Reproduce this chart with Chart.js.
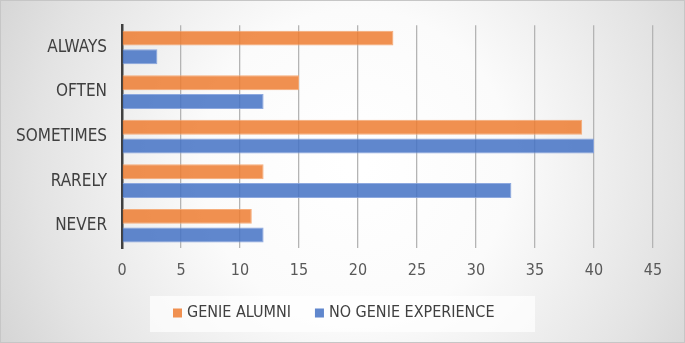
<!DOCTYPE html>
<html lang="en">
<head>
    <meta charset="UTF-8">
    <title>Genie survey</title>
    <script src="https://cdn.jsdelivr.net/npm/chart.js"></script>
    <style>
        html, body { margin: 0; padding: 0; background: #fff; }
        canvas { display: block; }
    </style>
</head>
<body>
    <canvas id="chart" width="685" height="343"></canvas>
    <script>
        const categories = ['ALWAYS', 'OFTEN', 'SOMETIMES', 'RARELY', 'NEVER'];
        const genieAlumni = [23, 15, 39, 12, 11];
        const noGenie = [3, 12, 40, 33, 12];
        const xTicks = [0, 5, 10, 15, 20, 25, 30, 35, 40, 45];

        const fontFamily = "'Liberation Sans Narrow', 'DejaVu Sans Condensed', sans-serif";

        // grey radial background, thin frame, and the legend in its white box
        const decor = {
            id: 'decor',
            beforeDraw(chart) {
                const ctx = chart.ctx;
                const w = chart.width, h = chart.height;
                ctx.save();
                const g = ctx.createRadialGradient(w * 0.52, h * 0.48, 10, w * 0.52, h * 0.48, w * 0.62);
                g.addColorStop(0, '#ffffff');
                g.addColorStop(0.35, '#fbfbfb');
                g.addColorStop(0.75, '#e3e3e3');
                g.addColorStop(1, '#d0d0d0');
                ctx.fillStyle = g;
                ctx.fillRect(0, 0, w, h);
                ctx.strokeStyle = '#c6c6c6';
                ctx.lineWidth = 1;
                ctx.strokeRect(0.5, 0.5, w - 1, h - 1);
                ctx.fillStyle = 'rgba(255,255,255,0.7)';
                ctx.fillRect(150, 296, 385, 36);
                ctx.restore();
            },
            afterDraw(chart) {
                const ctx = chart.ctx;
                ctx.save();
                ctx.font = '16px ' + fontFamily;
                ctx.textBaseline = 'middle';
                let x = 173;
                const y = 313;
                chart.data.datasets.forEach(ds => {
                    ctx.fillStyle = ds.backgroundColor;
                    ctx.fillRect(x, y - 4.5, 9, 9);
                    x += 14;
                    ctx.fillStyle = '#404040';
                    ctx.fillText(ds.label, x, y);
                    x += ctx.measureText(ds.label).width + 24;
                });
                ctx.restore();
            }
        };

        new Chart(document.getElementById('chart'), {
            type: 'bar',
            data: {
                labels: categories,
                datasets: [{
                    label: 'GENIE ALUMNI',
                    data: genieAlumni,
                    backgroundColor: 'rgba(237,125,49,0.85)',
                    borderColor: 'rgba(245,165,110,0.9)',
                    borderWidth: 1,
                    barPercentage: 0.8,
                    categoryPercentage: 0.84
                }, {
                    label: 'NO GENIE EXPERIENCE',
                    data: noGenie,
                    backgroundColor: 'rgba(68,114,196,0.85)',
                    borderColor: 'rgba(130,160,220,0.9)',
                    borderWidth: 1,
                    barPercentage: 0.8,
                    categoryPercentage: 0.84
                }]
            },
            options: {
                responsive: false,
                animation: false,
                indexAxis: 'y',
                layout: { padding: { top: 23, right: 32, bottom: 50, left: 0 } },
                scales: {
                    x: {
                        min: 0,
                        max: 45,
                        afterBuildTicks(scale) { scale.ticks = xTicks.map(v => ({ value: v })); },
                        grid: { color: '#b4b4b4', lineWidth: 1.3, drawTicks: false },
                        border: { display: false },
                        ticks: {
                            padding: 13,
                            color: '#595959',
                            font: { family: fontFamily, size: 16 }
                        },
                        afterFit(scale) { scale.height = 45; }
                    },
                    y: {
                        grid: { display: false, drawTicks: false },
                        border: { display: true, color: '#404040', width: 2.5 },
                        ticks: {
                            padding: 15,
                            color: '#404040',
                            font: { family: fontFamily, size: 17 }
                        },
                        afterFit(scale) { scale.width = 122; }
                    }
                },
                plugins: {
                    legend: { display: false },
                    tooltip: { enabled: false }
                }
            },
            plugins: [decor]
        });
    </script>
</body>
</html>
